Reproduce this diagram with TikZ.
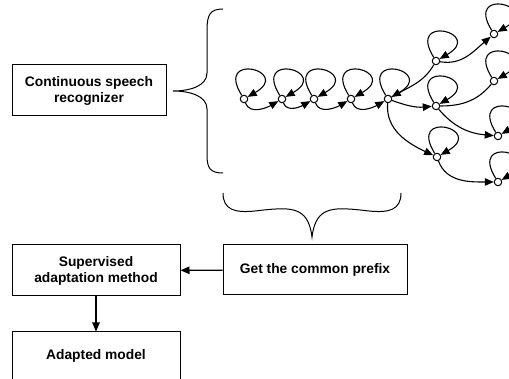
\documentclass[tikz,border=0pt]{standalone}
\usepackage{fontspec}
\setmainfont{Liberation Sans}
\usepackage{tikz}
\usetikzlibrary{arrows.meta, positioning}

\begin{document}
\begin{tikzpicture}[
  x=1pt, y=1pt,
  box/.style={rectangle, draw=black, line width=1pt, align=center, minimum height=51pt, font=\bfseries\fontsize{13.8}{16}\selectfont},
  state/.style={circle, draw=black, line width=1pt, fill=white, inner sep=0pt, minimum size=7.5pt},
  arc/.style={-{Triangle[length=9pt,width=7.5pt]}, line width=1.1pt},
  plain/.style={line width=1.1pt},
  selfloop/.style={out=122, in=30, min distance=52pt, looseness=8},
  brace/.style={line width=1pt}
]
  \useasboundingbox (0,0) rectangle (509,379);

  % Boxes
  \node[box, minimum width=154pt] (csr) at (89,288.5) {Continuous speech\\recognizer};
  \node[box, minimum width=168pt] (sup) at (96,108.5) {Supervised\\adaptation method};
  \node[box, minimum width=184pt, minimum height=50pt] (get) at (315,109) {Get the common prefix};
  \node[box, minimum width=168pt, minimum height=48pt] (adp) at (96,23) {Adapted model};

  \draw[arc] (get) -- (sup);
  \draw[arc] (sup) -- (adp);

  % Braces
  \draw[brace] (223,370) .. controls (210,370) and (207,364) .. (207,349) -- (207,306)
    .. controls (207,293) and (190,288) .. (173,288)
    .. controls (190,288) and (207,283) .. (207,270) -- (207,224)
    .. controls (207,211) and (210,206) .. (223,206);
  \draw[brace] (223,186) .. controls (223,169) and (235,166) .. (255,168)
    .. controls (290,172) and (308,174) .. (312,142)
    .. controls (316,174) and (334,172) .. (369,168)
    .. controls (389,166) and (401,169) .. (401,186);

  % States
  \node[state] (s1) at (244,280) {};
  \node[state] (s2) at (282,280) {};
  \node[state] (s3) at (314,280) {};
  \node[state] (s4) at (351,280) {};
  \node[state] (s5) at (388,280) {};
  \node[state] (s6) at (436,318) {};
  \node[state] (s7) at (436,273) {};
  \node[state] (s8) at (437,222) {};
  \node[state] (s9) at (494,345) {};
  \node[state] (s10) at (494,298) {};
  \node[state] (s11) at (498,243) {};
  \node[state] (s12) at (498,197) {};

  \foreach \s in {s1,s2,s3,s4,s5,s6,s7,s8,s9,s10,s11,s12}
    \draw[arc] (\s) to[selfloop] (\s);

  \draw[arc] (s1) to[out=-70, in=-150] (s2);
  \draw[arc] (s2) to[out=-70, in=-150] (s3);
  \draw[arc] (s3) to[out=-70, in=-150] (s4);
  \draw[arc] (s4) to[out=-70, in=-150] (s5);
  \draw[plain] (s5) to[out=30, in=-120] (s6);
  \draw[arc] (s5) to[out=-20, in=-175] (s7);
  \draw[arc] (s5) to[out=-95, in=155] (s8);
  \draw[arc] (s6) to[out=-10, in=-140] (s9);
  \draw[plain] (s7) to[out=0, in=-130] (s10);
  \draw[arc] (s7) to[out=-50, in=175] (s11);
  \draw[arc] (s8) to[out=-70, in=180] (s12);
\end{tikzpicture}
\end{document}
